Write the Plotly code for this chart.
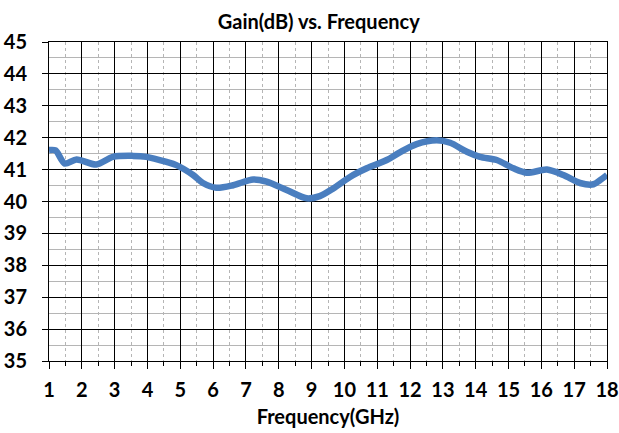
import plotly.graph_objects as go

freq = [1.0, 1.2, 1.48, 1.84, 2.44, 2.95, 3.56, 3.97, 4.58, 4.88, 5.39, 5.69, 6.1, 6.61, 7.22, 7.63,
        8.24, 8.85, 9.25, 9.66, 10.17, 10.68, 11.29, 11.69, 12.2, 12.81, 13.22, 13.73, 14.13,
        14.64, 15.15, 15.56, 16.17, 16.67, 17.18, 17.59, 17.79, 18.0]
gain = [41.61, 41.6, 41.19, 41.32, 41.16, 41.40, 41.43, 41.40, 41.24, 41.14, 40.83, 40.58, 40.43,
        40.51, 40.69, 40.62, 40.36, 40.10, 40.17, 40.41, 40.77, 41.04, 41.30, 41.54, 41.80, 41.92,
        41.84, 41.56, 41.40, 41.30, 41.04, 40.90, 41.00, 40.83, 40.58, 40.54, 40.67, 40.83]

x_ticks = list(range(1, 19))
y_ticks = list(range(35, 46))

FONT = "Lato"

fig = go.Figure()
fig.add_trace(go.Scatter(x=freq, y=gain, mode="lines",
                         line=dict(color="#4A7EBF", width=6.5, shape="spline", smoothing=0.8),
                         showlegend=False))

fig.update_layout(
    width=619, height=433,
    margin=dict(l=49, r=12, t=42, b=72, autoexpand=False),
    paper_bgcolor="white", plot_bgcolor="white",
    title=dict(text="Gain(dB) vs. Frequency", x=0.515, xanchor="center", y=0.949, yanchor="middle",
               font=dict(family=FONT, size=20, color="#000", weight="bold")),
    font=dict(family=FONT, color="#000"),
)
fig.update_xaxes(
    automargin=False,
    range=[1, 18], tickvals=x_ticks, ticktext=[str(v) for v in x_ticks],
    showgrid=True, gridcolor="#000", gridwidth=1,
    showline=True, linecolor="#000", linewidth=1, mirror=True,
    ticks="outside", ticklen=7, tickcolor="#000", tickwidth=1,
    tickfont=dict(family=FONT, size=20, color="#000", weight="bold"),
    ticklabelstandoff=4,
    minor=dict(dtick=0.5, tick0=0.5, showgrid=True, gridcolor="#b5b5b5", griddash="dot", gridwidth=1,
               ticks="outside", ticklen=4, tickcolor="#000"),
    title=dict(text="Frequency(GHz)", font=dict(family=FONT, size=20, color="#000", weight="bold"),
               standoff=9),
    zeroline=False,
)
fig.update_yaxes(
    automargin=False,
    range=[35, 45], tickvals=y_ticks, ticktext=[str(v) for v in y_ticks],
    showgrid=True, gridcolor="#000", gridwidth=1,
    showline=True, linecolor="#000", linewidth=1, mirror=True,
    ticks="outside", ticklen=6, tickcolor="#000", tickwidth=1,
    tickfont=dict(family=FONT, size=20, color="#000", weight="bold"),
    ticklabelstandoff=11,
    minor=dict(dtick=0.5, tick0=0.5, showgrid=True, gridcolor="#b5b5b5", gridwidth=1, ticks=""),
    zeroline=False,
)

fig.write_html("out.html", config={"displayModeBar": False},
               post_script="document.body.style.margin='0';document.body.style.overflow='hidden';")
